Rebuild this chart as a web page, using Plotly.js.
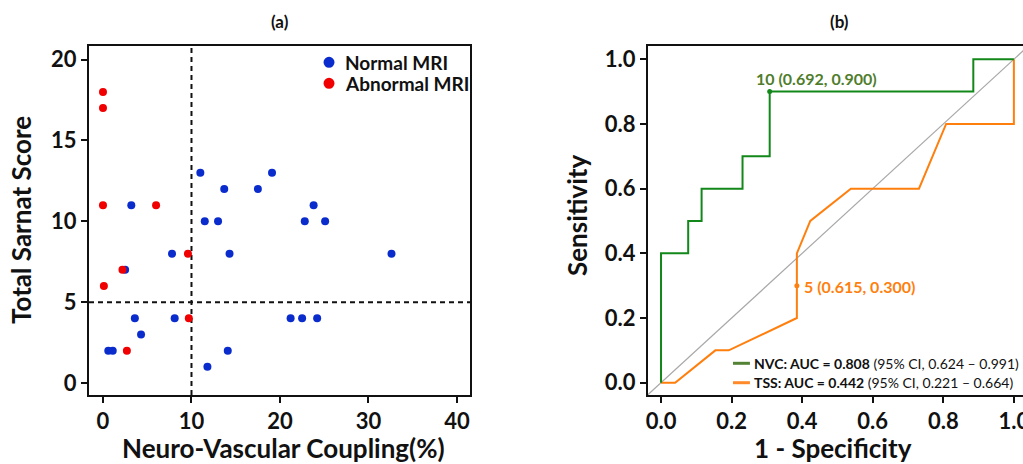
<!DOCTYPE html>
<html>
<head>
<meta charset="utf-8">
<script src="https://cdn.plot.ly/plotly-3.0.1.min.js"></script>
<style>
html,body{margin:0;padding:0;overflow:hidden;background:#fff;}
#chart{width:1040px;height:464px;}
</style>
</head>
<body>
<div id="chart"></div>
<script>
// ---------- Panel (a) data ----------
const normalNVC   = [11.0, 19.1, 13.7, 17.5, 3.2, 23.8, 11.5, 13.0, 22.8, 25.1, 7.8, 14.3, 32.6, 2.5, 3.6, 8.1, 21.2, 22.5, 24.2, 4.3, 0.6, 1.1, 14.1, 11.8];
const normalTSS   = [13, 13, 12, 12, 11, 11, 10, 10, 10, 10, 8, 8, 8, 7, 4, 4, 4, 4, 4, 3, 2, 2, 2, 1];
const abnormalNVC = [0.0, 0.0, 0.0, 6.0, 9.6, 2.2, 0.1, 9.7, 2.7];
const abnormalTSS = [18, 17, 11, 11, 8, 7, 6, 4, 2];
const cutoffNVC = 10;
const cutoffTSS = 5;
const xTicksA = [0, 10, 20, 30, 40];
const yTicksA = [0, 5, 10, 15, 20];
const legendA = ["Normal MRI", "Abnormal MRI"];

// ---------- Panel (b) data ----------
const nvcFPR = [0, 0, 0.077, 0.077, 0.115, 0.115, 0.231, 0.231, 0.308, 0.308, 0.885, 0.885, 1.0];
const nvcTPR = [0, 0.4, 0.4, 0.5, 0.5, 0.6, 0.6, 0.7, 0.7, 0.9, 0.9, 1.0, 1.0];
const tssFPR = [0, 0.04, 0.154, 0.192, 0.385, 0.385, 0.423, 0.538, 0.731, 0.808, 1.0, 1.0];
const tssTPR = [0, 0, 0.1, 0.1, 0.2, 0.4, 0.5, 0.6, 0.6, 0.8, 0.8, 1.0];
const chanceLine = [-0.05, 1.1];
const nvcCut = {fpr: 0.308, tpr: 0.9, label: "10 (0.692, 0.900)"};
const tssCut = {fpr: 0.385, tpr: 0.3, label: "5 (0.615, 0.300)"};
const legendB = [
  "<b>NVC: AUC = 0.808</b> (95% CI, 0.624 \u2013 0.991)",
  "<b>TSS: AUC = 0.442</b> (95% CI, 0.221 \u2013 0.664)"
];
const xTicksB = [0, 0.2, 0.4, 0.6, 0.8, 1.0];
const yTicksB = [0, 0.2, 0.4, 0.6, 0.8, 1.0];

// ---------- styling ----------
const W = 1040, H = 464;
const FONT = "Lato, 'Open Sans', sans-serif";
const BLUE = "#0a2ccc", RED = "#f00000";
const GREEN = "#13881a", ORANGE = "#ff7f0e", OLIVE = "#4f7d2c";
const tickFont = {family: FONT, size: 22, color: "#111", weight: "bold"};
const px = v => v / W;
const py = v => (395 - v) / 349;

const axisBase = {
  showline: true, linewidth: 2, linecolor: "#111", mirror: true,
  ticks: "outside", ticklen: 6, tickwidth: 2, tickcolor: "#111",
  showgrid: false, zeroline: false, tickfont: tickFont, fixedrange: true
};

const traces = [
  {x: normalNVC, y: normalTSS, type: "scatter", mode: "markers", xaxis: "x", yaxis: "y",
   marker: {color: BLUE, size: 8}, name: legendA[0], hoverinfo: "x+y"},
  {x: abnormalNVC, y: abnormalTSS, type: "scatter", mode: "markers", xaxis: "x", yaxis: "y",
   marker: {color: RED, size: 8}, name: legendA[1], hoverinfo: "x+y"},
  {x: chanceLine, y: chanceLine, type: "scatter", mode: "lines", xaxis: "x2", yaxis: "y2",
   line: {color: "#a8a8a8", width: 1.2}, hoverinfo: "skip"},
  {x: tssFPR, y: tssTPR, type: "scatter", mode: "lines", xaxis: "x2", yaxis: "y2",
   line: {color: ORANGE, width: 2}, name: "TSS"},
  {x: nvcFPR, y: nvcTPR, type: "scatter", mode: "lines", xaxis: "x2", yaxis: "y2",
   line: {color: GREEN, width: 2}, name: "NVC"},
  {x: [nvcCut.fpr], y: [nvcCut.tpr], type: "scatter", mode: "markers", xaxis: "x2", yaxis: "y2",
   marker: {color: GREEN, size: 5}, hoverinfo: "skip"},
  {x: [tssCut.fpr], y: [tssCut.tpr], type: "scatter", mode: "markers", xaxis: "x2", yaxis: "y2",
   marker: {color: ORANGE, size: 5}, hoverinfo: "skip"}
];

// legend for panel (a): anchor in data coords
const legAx = 25.54, legAy = [19.83, 18.53], legAtx = 27.1;
// legend for panel (b)
const legBx0 = 0.204, legBx1 = 0.252, legBtx = 0.258, legBy = [0.06, 0.0];

const shapes = [
  {type: "line", xref: "x", yref: "y domain", x0: cutoffNVC, x1: cutoffNVC, y0: 0, y1: 1,
   line: {color: "#111", width: 2, dash: "5px,4px"}, layer: "below"},
  {type: "line", xref: "x domain", yref: "y", x0: 0, x1: 1, y0: cutoffTSS, y1: cutoffTSS,
   line: {color: "#111", width: 2, dash: "5px,4px"}, layer: "below"},
  {type: "circle", xref: "x", yref: "y", xsizemode: "pixel", ysizemode: "pixel",
   xanchor: legAx, yanchor: legAy[0], x0: -5.5, x1: 5.5, y0: -5.5, y1: 5.5,
   fillcolor: BLUE, line: {width: 0}},
  {type: "circle", xref: "x", yref: "y", xsizemode: "pixel", ysizemode: "pixel",
   xanchor: legAx, yanchor: legAy[1], x0: -5.5, x1: 5.5, y0: -5.5, y1: 5.5,
   fillcolor: RED, line: {width: 0}},
  {type: "line", xref: "x2", yref: "y2", x0: legBx0, x1: legBx1, y0: legBy[0], y1: legBy[0],
   line: {color: "#548235", width: 3}},
  {type: "line", xref: "x2", yref: "y2", x0: legBx0, x1: legBx1, y0: legBy[1], y1: legBy[1],
   line: {color: "#ff8a2a", width: 3}}
];

const ann = (o) => Object.assign({showarrow: false, font: {family: FONT, size: 26, color: "#111"}}, o);
const annotations = [
  ann({text: "<b>(a)</b>", xref: "paper", yref: "paper", x: px(280), y: py(22), xanchor: "center", yanchor: "middle", font: {family: FONT, size: 17, color: "#111"}}),
  ann({text: "<b>(b)</b>", xref: "paper", yref: "paper", x: px(839), y: py(22), xanchor: "center", yanchor: "middle", font: {family: FONT, size: 17, color: "#111"}}),
  ann({text: "<b>Neuro-Vascular Coupling(%)</b>", xref: "paper", yref: "paper", x: px(283.5), y: py(448), xanchor: "center", yanchor: "middle"}),
  ann({text: "<b>1 - Specificity</b>", xref: "paper", yref: "paper", x: px(832.5), y: py(448), xanchor: "center", yanchor: "middle"}),
  ann({text: "<b>Total Sarnat Score</b>", xref: "paper", yref: "paper", x: px(21), y: py(220), xanchor: "center", yanchor: "middle", textangle: -90}),
  ann({text: "<b>Sensitivity</b>", xref: "paper", yref: "paper", x: px(577), y: py(215), xanchor: "center", yanchor: "middle", textangle: -90}),
  ann({text: "<b>" + legendA[0] + "</b>", xref: "x", yref: "y", x: legAtx, y: legAy[0], xanchor: "left", yanchor: "middle", font: {family: FONT, size: 19, color: "#111"}}),
  ann({text: "<b>" + legendA[1] + "</b>", xref: "x", yref: "y", x: legAtx, y: legAy[1], xanchor: "left", yanchor: "middle", font: {family: FONT, size: 19, color: "#111"}}),
  ann({text: "<b>" + nvcCut.label + "</b>", xref: "x2", yref: "y2", x: 0.264, y: 0.939, xanchor: "left", yanchor: "middle", font: {family: FONT, size: 16, color: OLIVE}}),
  ann({text: "<b>" + tssCut.label + "</b>", xref: "x2", yref: "y2", x: 0.40, y: 0.299, xanchor: "left", yanchor: "middle", font: {family: FONT, size: 16, color: ORANGE}}),
  ann({text: legendB[0], xref: "x2", yref: "y2", x: legBtx, y: legBy[0], xanchor: "left", yanchor: "middle", font: {family: FONT, size: 14, color: "#111"}}),
  ann({text: legendB[1], xref: "x2", yref: "y2", x: legBtx, y: legBy[1], xanchor: "left", yanchor: "middle", font: {family: FONT, size: 14, color: "#111"}})
];

const layout = {
  width: W, height: H,
  margin: {l: 0, r: 0, t: 46, b: 69, pad: 0},
  paper_bgcolor: "#fff", plot_bgcolor: "#fff",
  showlegend: false,
  font: {family: FONT, color: "#111"},
  xaxis: Object.assign({}, axisBase, {domain: [px(89), px(470)], range: [-1.58, 41.47], tickvals: xTicksA, anchor: "y"}),
  yaxis: Object.assign({}, axisBase, {domain: [0, 1], range: [-0.74, 20.84], tickvals: yTicksA, anchor: "x"}),
  xaxis2: Object.assign({}, axisBase, {domain: [px(648), px(1028)], range: [-0.0369, 1.04], tickvals: xTicksB, tickformat: ".1f", anchor: "y2"}),
  yaxis2: Object.assign({}, axisBase, {domain: [0, 1], range: [-0.038, 1.041], tickvals: yTicksB, tickformat: ".1f", anchor: "x2"}),
  shapes: shapes,
  annotations: annotations
};

Plotly.newPlot("chart", traces, layout, {displayModeBar: false, staticPlot: true});
</script>
</body>
</html>
